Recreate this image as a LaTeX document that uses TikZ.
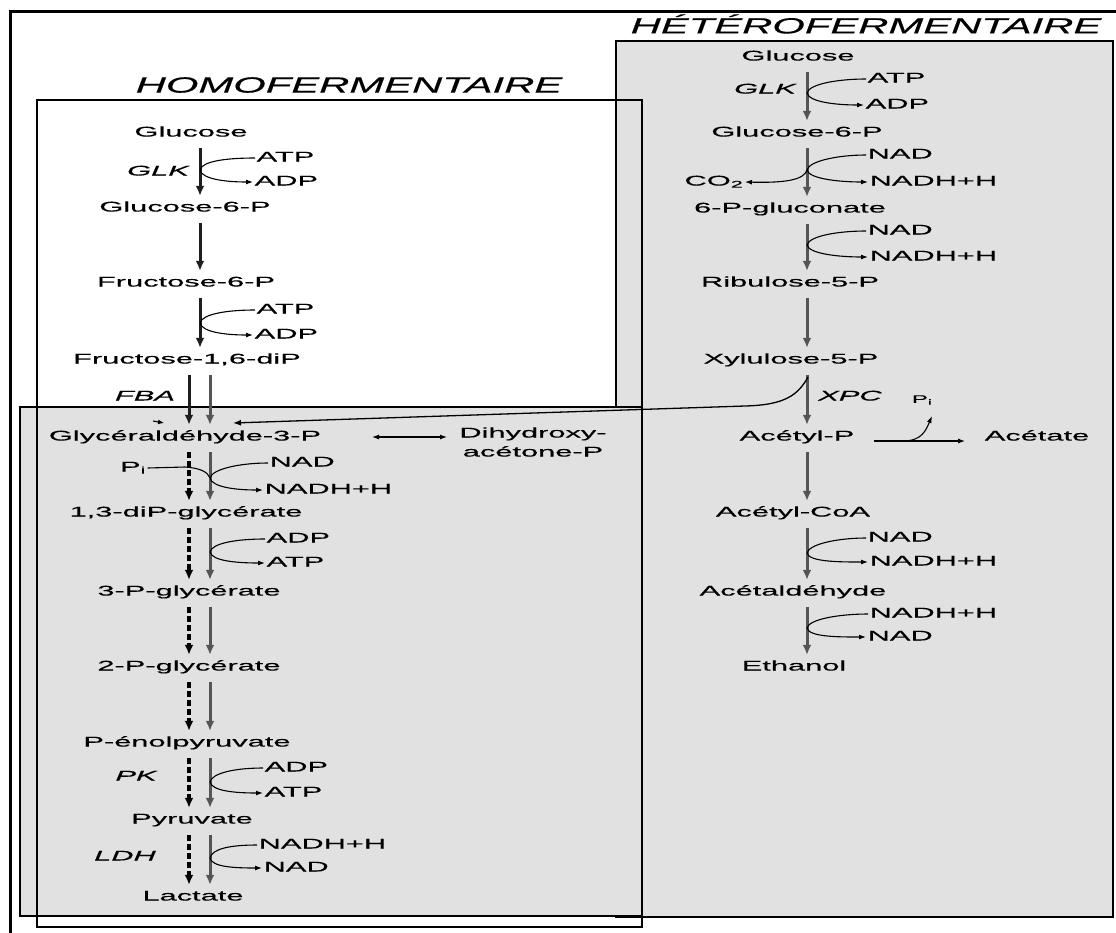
\documentclass[tikz,border=0pt]{standalone}
\usepackage{fontspec}
\setmainfont{Liberation Sans}
\newfontfamily\lblfont{Liberation Sans}[FakeStretch=2.2,FakeBold=0.4]
\newfontfamily\ttlfont{Liberation Sans}[FakeStretch=1.9,FakeBold=0.5]
\usetikzlibrary{arrows.meta}
\definecolor{bggray}{RGB}{225,225,225}
\definecolor{arrgray}{RGB}{85,85,85}
\definecolor{darkarr}{RGB}{30,30,30}
\newcommand\cofpair[4]{%
  \draw[cof] (#3.west) .. controls ([xshift=-28pt]#3.west) and (#1+2,#2-9) .. (#1,#2);
  \draw[cofarr] (#1,#2) .. controls (#1+2,#2+9) and ([xshift=-28pt]#4.west) .. (#4.west);}
\begin{document}
\begin{tikzpicture}[x=1pt,y=-1pt,
  lbl/.style={font=\lblfont\fontsize{14}{17}\selectfont, inner sep=1.5pt, text height=10pt, text depth=3pt},
  enz/.style={lbl, font=\lblfont\fontsize{14}{17}\selectfont\itshape},
  dh/.style={font=\lblfont\fontsize{14}{19}\selectfont, inner sep=1.5pt, align=center},
  small/.style={font=\lblfont\fontsize{11}{13}\selectfont, inner sep=1pt},
  ttl/.style={font=\ttlfont\fontsize{22}{26}\selectfont\itshape, inner sep=0pt},
  boxline/.style={line width=2.2pt, draw=black},
  marr/.style={line width=3pt, draw=darkarr, -{Latex[length=10pt,width=9pt]}, shorten <=7pt, shorten >=4pt},
  garr/.style={marr, draw=arrgray},
  darr/.style={marr, draw=black, line width=3.6pt, dash pattern=on 6pt off 3pt},
  cof/.style={line width=1.1pt, draw=black},
  cofarr/.style={cof, -{Latex[length=7pt,width=5pt]}}
]
\useasboundingbox (0,0) rectangle (1116,932);
\clip (0,0) rectangle (1116,932);
\fill[white] (0,0) rectangle (1116,932);

% boxes
\draw[boxline, fill=bggray] (616,41) rectangle (1113,917);
\draw[boxline, fill=bggray] (20,407) rectangle (642,916);
\draw[boxline] (37,100) rectangle (642,927);
\draw[line width=3pt] (10,940) -- (10,11) -- (1125,11);

% titles
\node[ttl] (homoT) at (349,85) {HOMOFERMENTAIRE};
\node[ttl] (heteroT) at (866,24) {HÉTÉROFERMENTAIRE};

% homofermentaire
\node[lbl] (glc) at (191,133) {Glucose};
\node[enz] (glk) at (158,172) {GLK};
\node[lbl, anchor=west] (atpA) at (255,158) {ATP};
\node[lbl, anchor=west] (adpA) at (253,182) {ADP};
\node[lbl] (g6p) at (185,208) {Glucose-6-P};
\node[lbl] (f6p) at (186,283) {Fructose-6-P};
\node[lbl, anchor=west] (atpB) at (255,310) {ATP};
\node[lbl, anchor=west] (adpB) at (253,335) {ADP};
\node[lbl] (fdp) at (187,360) {Fructose-1,6-diP};
\node[enz] (fba) at (145,397) {FBA};
\node[lbl] (gap) at (185,437) {Glycéraldéhyde-3-P};
\node[dh] (dhap) at (533,442) {Dihydroxy-\\acétone-P};
\node[lbl] (pi1) at (133,468) {P\textsubscript{i}};
\node[lbl, anchor=west] (nadC) at (268,463) {NAD};
\node[lbl, anchor=west] (nadhC) at (263,490) {NADH+H};
\node[lbl] (dpg) at (186,513) {1,3-diP-glycérate};
\node[lbl, anchor=west] (adpD) at (265,539) {ADP};
\node[lbl, anchor=west] (atpD) at (265,563) {ATP};
\node[lbl] (pg3) at (189,592) {3-P-glycérate};
\node[lbl] (pg2) at (189,667) {2-P-glycérate};
\node[lbl] (pep) at (187,743) {P-énolpyruvate};
\node[enz] (pk) at (136,777) {PK};
\node[lbl, anchor=west] (adpE) at (263,768) {ADP};
\node[lbl, anchor=west] (atpE) at (263,793) {ATP};
\node[lbl] (pyr) at (192,820) {Pyruvate};
\node[enz] (ldh) at (125,857) {LDH};
\node[lbl, anchor=west] (nadhF) at (257,845) {NADH+H};
\node[lbl, anchor=west] (nadF) at (262,868) {NAD};
\node[lbl] (lac) at (193,897) {Lactate};

% heterofermentaire
\node[lbl] (hglc) at (798,57) {Glucose};
\node[enz] (hglk) at (765,90) {GLK};
\node[lbl, anchor=west] (hatp) at (866,79) {ATP};
\node[lbl, anchor=west] (hadp) at (864,105) {ADP};
\node[lbl] (hg6p) at (797,133) {Glucose-6-P};
\node[lbl, anchor=west] (hnadA) at (866,155) {NAD};
\node[lbl, anchor=west] (hnadhA) at (868,182) {NADH+H};
\node[lbl, anchor=east] (co2) at (745,182) {CO\textsubscript{2}};
\node[lbl] (h6pg) at (790,209) {6-P-gluconate};
\node[lbl, anchor=west] (hnadB) at (866,231) {NAD};
\node[lbl, anchor=west] (hnadhB) at (868,257) {NADH+H};
\node[lbl] (ribu) at (790,283) {Ribulose-5-P};
\node[lbl] (xylu) at (791,360) {Xylulose-5-P};
\node[enz] (xpc) at (850,397) {XPC};
\node[small] (pi2) at (922,400) {P\textsubscript{i}};
\node[lbl] (acp) at (797,437) {Acétyl-P};
\node[lbl] (acet) at (1037,437) {Acétate};
\node[lbl] (acoa) at (793,513) {Acétyl-CoA};
\node[lbl, anchor=west] (hnadC) at (866,538) {NAD};
\node[lbl, anchor=west] (hnadhC) at (868,562) {NADH+H};
\node[lbl] (acald) at (793,592) {Acétaldéhyde};
\node[lbl, anchor=west] (hnadhD) at (868,614) {NADH+H};
\node[lbl, anchor=west] (hnadD) at (866,637) {NAD};
\node[lbl] (etoh) at (794,667) {Ethanol};

% axes
\coordinate (axA) at (200,0);
\coordinate (axD) at (189,0);
\coordinate (axG) at (210,0);
\coordinate (axH) at (807,0);

% main arrows homo
\draw[marr] (glc.south -| axA) -- (g6p.north -| axA);
\draw[marr] (g6p.south -| axA) -- (f6p.north -| axA);
\draw[marr] (f6p.south -| axA) -- (fdp.north -| axA);
\draw[marr] (fdp.south -| axD) -- (gap.north -| axD);
\draw[garr] (fdp.south -| axG) -- (gap.north -| axG);
\foreach \a/\b in {gap/dpg,dpg/pg3,pg3/pg2,pg2/pep,pep/pyr,pyr/lac}{
  \draw[darr] (\a.south -| axD) -- (\b.north -| axD);
  \draw[garr] (\a.south -| axG) -- (\b.north -| axG);
}
% main arrows hetero
\foreach \a/\b in {hglc/hg6p,hg6p/h6pg,h6pg/ribu,ribu/xylu,xylu/acp,acp/acoa,acoa/acald,acald/etoh}{
  \draw[garr] (\a.south -| axH) -- (\b.north -| axH);
}

% cofactors
\cofpair{200}{170}{atpA}{adpA}
\cofpair{200}{323}{atpB}{adpB}
\cofpair{210}{478}{nadC}{nadhC}
\cofpair{210}{552}{adpD}{atpD}
\cofpair{210}{782}{adpE}{atpE}
\cofpair{210}{858}{nadhF}{nadF}
\cofpair{807}{93}{hatp}{hadp}
\cofpair{807}{170}{hnadA}{hnadhA}
\cofpair{807}{245}{hnadB}{hnadhB}
\cofpair{807}{553}{hnadC}{hnadhC}
\cofpair{807}{628}{hnadhD}{hnadD}
\draw[cof] (pi1.east) -- (185,467) .. controls (200,468) and (208,472) .. (210,478);
\draw[cofarr] (807,170) .. controls (804,180) and (785,183) .. (co2.east);

% GAP <-> DHAP
\coordinate (dA) at (372,437);
\coordinate (dB) at (447,437);
\draw[cof, {Latex[length=7pt,width=5pt]}-{Latex[length=7pt,width=5pt]}] (dA) -- (dB);

% XPC branch to GAP
\coordinate (xpcstart) at (808,377);
\coordinate (xpcend) at (233,423);
\draw[cof, line width=1.3pt, -{Latex[length=8pt,width=6pt]}] (xpcstart) .. controls (798,395) and (785,405) .. (745,406) -- (xpcend);
\draw[cof, -{Latex[length=6pt,width=5pt]}] (153,421) -- (164,423);

% Acetyl-P -> Acetate
\draw[cofarr, shorten <=18pt, shorten >=18pt] ([yshift=-4pt]acp.east) -- ([yshift=-4pt]acet.west);
\draw[cofarr] (903,441) .. controls (922,441) and (926,430) .. (932,416);
\end{tikzpicture}
\end{document}
